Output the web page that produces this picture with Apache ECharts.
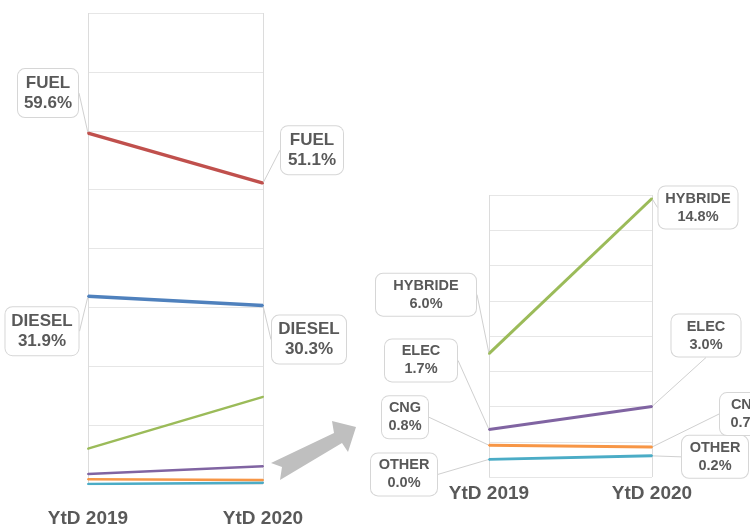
<!DOCTYPE html>
<html>
<head>
<meta charset="utf-8">
<script src="https://cdn.jsdelivr.net/npm/echarts@6/dist/echarts.min.js"></script>
<style>
  html, body { margin: 0; padding: 0; background: #fff; }
  #chart { width: 750px; height: 528px; }
</style>
</head>
<body>
<div id="chart"></div>
<script>
var categories = ['YtD 2019', 'YtD 2020'];
var fuel = [59.6, 51.1];
var diesel = [31.9, 30.3];
var hybride = [6.0, 14.8];
var elec = [1.7, 3.0];
var cng = [0.8, 0.7];
var other = [0.0, 0.2];

var colors = {
    FUEL: '#C0504D',
    DIESEL: '#4F81BD',
    HYBRIDE: '#9BBB59',
    ELEC: '#8064A2',
    CNG: '#F79646',
    OTHER: '#4BACC6'
};

// callout offsets from the point: [dx, dy, text width]
var leftCallouts = {
    FUEL: [[-40, -40, 48], [49, -33, 50]],
    DIESEL: [[-46, 35, 61], [46, 34, 62]]
};
var rightCallouts = {
    HYBRIDE: [[-63, -59, 86], [46, 9, 65]],
    ELEC: [[-68, -69, 58], [54, -71, 55]],
    CNG: [[-84, -28, 32], [95, -33, 40]],
    OTHER: [[-85, 15, 52], [63, 1, 52]]
};

var textGray = '#595959';
var gridGray = '#dcdcdc';

function makeSeries(name, values, panel, width) {
    var callouts = panel === 0 ? leftCallouts[name] : rightCallouts[name];
    var s = {
        name: name,
        type: 'line',
        xAxisIndex: panel,
        yAxisIndex: panel,
        data: values,
        symbol: 'circle',
        symbolSize: 2,
        showSymbol: true,
        lineStyle: { color: colors[name], width: width },
        itemStyle: { color: colors[name] },
        emphasis: { disabled: true },
        label: { show: false }
    };
    if (callouts) {
        s.label = {
            show: true,
            position: 'inside',
            formatter: function (p) {
                return p.seriesName + '\n' + p.value.toFixed(1) + '%';
            },
            color: textGray,
            fontFamily: 'Liberation Sans',
            fontWeight: 'bold',
            fontSize: panel === 0 ? 17 : 14.5,
            lineHeight: panel === 0 ? 20 : 18,
            align: 'center',
            backgroundColor: '#fff',
            borderColor: '#d6d6d6',
            borderWidth: 1,
            borderRadius: 7,
            padding: panel === 0 ? [4, 6] : [3, 7]
        };
        s.labelLine = {
            show: true,
            length2: 0,
            lineStyle: { color: '#d0d0d0', width: 1 }
        };
        s.labelLayout = function (p) {
            var c = callouts[p.dataIndex];
            return { dx: c[0], dy: c[1], width: c[2] };
        };
    }
    return s;
}

var chart = echarts.init(document.getElementById('chart'));

var axisLabelStyle = {
    color: textGray,
    fontFamily: 'Liberation Sans',
    fontWeight: 'bold',
    fontSize: 19
};

var option = {
    animation: false,
    backgroundColor: '#fff',
    grid: [
        { left: 88, top: 13, width: 175, height: 471 },
        { left: 489, top: 195, width: 163, height: 282 }
    ],
    xAxis: [
        {
            type: 'category', gridIndex: 0, data: categories, boundaryGap: false,
            axisLine: { show: false }, axisTick: { show: false },
            axisLabel: Object.assign({ margin: 25 }, axisLabelStyle),
            splitLine: { show: true, lineStyle: { color: gridGray } }
        },
        {
            type: 'category', gridIndex: 1, data: categories, boundaryGap: false,
            axisLine: { show: false }, axisTick: { show: false },
            axisLabel: Object.assign({ margin: 7 }, axisLabelStyle),
            splitLine: { show: true, lineStyle: { color: gridGray } }
        }
    ],
    yAxis: [
        {
            type: 'value', gridIndex: 0, min: 0, max: 80, interval: 10,
            axisLine: { show: false }, axisTick: { show: false }, axisLabel: { show: false },
            splitLine: { show: true, lineStyle: { color: '#e6e6e6' } }
        },
        {
            type: 'value', gridIndex: 1, min: -1, max: 15,
            axisLine: { show: false }, axisTick: { show: false }, axisLabel: { show: false },
            splitLine: { show: false }
        },
        {
            // only for the gridlines of the zoomed panel
            type: 'value', gridIndex: 1, min: 0, max: 16, interval: 2,
            axisLine: { show: false }, axisTick: { show: false }, axisLabel: { show: false },
            splitLine: { show: true, lineStyle: { color: '#e6e6e6' } }
        }
    ],
    graphic: [
        {
            type: 'polygon',
            shape: {
                points: [[271, 463], [334, 433], [332, 421], [356, 427],
                         [348, 452], [342, 443], [280, 480], [282, 467]]
            },
            style: { fill: '#bfbfbf' },
            z: 10
        }
    ],
    series: [
        makeSeries('OTHER', other, 0, 2.5),
        makeSeries('CNG', cng, 0, 2.5),
        makeSeries('ELEC', elec, 0, 2.5),
        makeSeries('HYBRIDE', hybride, 0, 2.5),
        makeSeries('DIESEL', diesel, 0, 3.5),
        makeSeries('FUEL', fuel, 0, 3.5),
        makeSeries('OTHER', other, 1, 3),
        makeSeries('CNG', cng, 1, 3),
        makeSeries('ELEC', elec, 1, 3),
        makeSeries('HYBRIDE', hybride, 1, 3)
    ]
};

chart.setOption(option);
</script>
</body>
</html>
